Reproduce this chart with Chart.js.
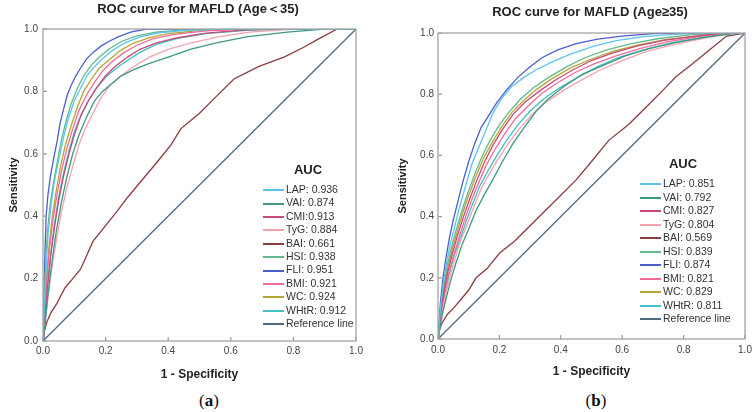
<!DOCTYPE html>
<html>
<head>
<meta charset="utf-8">
<script src="https://cdn.jsdelivr.net/npm/chart.js@4.4.1/dist/chart.umd.min.js"></script>
<style>
  body { margin: 0; background: #fff; font-family: Arial, "Liberation Sans", sans-serif; }
  #page { position: relative; width: 753px; height: 412px; overflow: hidden; }
  canvas { position: absolute; top: 0; }
  .title { position: absolute; transform: translate(-50%, -50%); font-weight: bold; font-size: 13px; color: #222; white-space: nowrap; }
  .panel { position: absolute; transform: translate(-50%, -50%); font-family: "Liberation Serif", "DejaVu Serif", serif; font-size: 17px; color: #111; }
  .auc { position: absolute; transform: translate(-50%, -50%); font-weight: bold; font-size: 13px; color: #222; }
  .leg { position: absolute; font-size: 10.5px; line-height: 12px; color: #333; white-space: nowrap; transform: translateY(-50%); }
  .leg span { display: inline-block; width: 21px; height: 2px; vertical-align: middle; margin-right: 2px; }
</style>
</head>
<body>
<div id="page">
  <canvas id="ChartYoung" width="376" height="390" style="left:0"></canvas>
  <canvas id="ChartOld" width="377" height="390" style="left:376px"></canvas>
  <div class="title" style="left:198px; top:9px">ROC curve for MAFLD (Age＜35)</div>
  <div class="title" style="left:590px; top:11px">ROC curve for MAFLD (Age≥35)</div>
  <div class="panel" style="left:209px; top:401px">(<b>a</b>)</div>
  <div class="panel" style="left:596px; top:401px">(<b>b</b>)</div>
  <div id="LegendYoung"></div>
  <div id="LegendOld"></div>
</div>
<script>
const markers = ["LAP", "VAI", "CMI", "TyG", "BAI", "HSI", "FLI", "BMI", "WC", "WHtR"];
const legendYoung = ["LAP: 0.936", "VAI: 0.874", "CMI:0.913", "TyG: 0.884", "BAI: 0.661", "HSI: 0.938", "FLI: 0.951", "BMI: 0.921", "WC: 0.924", "WHtR: 0.912", "Reference line"];
const legendOld = ["LAP: 0.851", "VAI: 0.792", "CMI: 0.827", "TyG: 0.804", "BAI: 0.569", "HSI: 0.839", "FLI: 0.874", "BMI: 0.821", "WC: 0.829", "WHtR: 0.811", "Reference line"];
const axisTicks = [0, 0.2, 0.4, 0.6, 0.8, 1.0];
const referenceLine = [[0, 0], [1, 1]];

// Age < 35 : [1 - specificity, sensitivity]
const lapYoung = [[0,0],[0.004,0.1],[0.009,0.22],[0.016,0.34],[0.025,0.43],[0.036,0.51],[0.05,0.58],[0.065,0.65],[0.08,0.71],[0.1,0.77],[0.12,0.81],[0.14,0.85],[0.165,0.88],[0.19,0.905],[0.22,0.93],[0.26,0.955],[0.31,0.975],[0.37,0.988],[0.45,0.995],[0.56,1],[1,1]];
const vaiYoung = [[0,0],[0.007,0.06],[0.016,0.15],[0.028,0.25],[0.042,0.35],[0.058,0.44],[0.075,0.52],[0.095,0.6],[0.115,0.66],[0.14,0.72],[0.165,0.77],[0.19,0.8],[0.22,0.825],[0.25,0.85],[0.29,0.87],[0.34,0.89],[0.4,0.91],[0.47,0.935],[0.55,0.955],[0.65,0.975],[0.78,0.99],[0.9,1],[1,1]];
const cmiYoung = [[0,0],[0.006,0.07],[0.014,0.17],[0.024,0.27],[0.036,0.36],[0.05,0.45],[0.066,0.53],[0.083,0.6],[0.1,0.66],[0.12,0.72],[0.145,0.77],[0.17,0.81],[0.2,0.85],[0.23,0.88],[0.27,0.91],[0.31,0.935],[0.36,0.955],[0.43,0.972],[0.52,0.987],[0.65,0.997],[0.75,1],[1,1]];
const tygYoung = [[0,0],[0.007,0.06],[0.016,0.14],[0.028,0.23],[0.042,0.32],[0.058,0.41],[0.076,0.49],[0.095,0.56],[0.115,0.63],[0.135,0.68],[0.16,0.73],[0.185,0.78],[0.215,0.82],[0.25,0.85],[0.29,0.88],[0.34,0.91],[0.4,0.935],[0.47,0.955],[0.56,0.975],[0.66,0.99],[0.8,1],[1,1]];
const baiYoung = [[0,0],[0.004,0.03],[0.012,0.06],[0.025,0.09],[0.044,0.12],[0.07,0.17],[0.095,0.2],[0.12,0.23],[0.16,0.32],[0.2,0.37],[0.24,0.42],[0.27,0.46],[0.32,0.52],[0.37,0.58],[0.41,0.63],[0.44,0.68],[0.5,0.73],[0.55,0.78],[0.61,0.84],[0.69,0.88],[0.77,0.91],[0.83,0.94],[0.875,0.965],[0.94,1],[1,1]];
const hsiYoung = [[0,0],[0.004,0.12],[0.008,0.24],[0.014,0.35],[0.022,0.43],[0.032,0.5],[0.045,0.57],[0.06,0.65],[0.075,0.71],[0.09,0.76],[0.11,0.81],[0.13,0.85],[0.155,0.885],[0.18,0.91],[0.21,0.935],[0.25,0.96],[0.3,0.978],[0.36,0.99],[0.45,0.997],[0.55,1],[1,1]];
const fliYoung = [[0,0],[0.003,0.12],[0.006,0.27],[0.01,0.4],[0.016,0.47],[0.024,0.53],[0.035,0.59],[0.045,0.64],[0.055,0.7],[0.065,0.74],[0.078,0.79],[0.09,0.82],[0.105,0.85],[0.12,0.875],[0.14,0.905],[0.16,0.925],[0.185,0.945],[0.21,0.96],[0.24,0.975],[0.28,0.99],[0.33,1],[1,1]];
const bmiYoung = [[0,0],[0.005,0.08],[0.012,0.19],[0.021,0.3],[0.032,0.39],[0.045,0.47],[0.06,0.55],[0.077,0.62],[0.095,0.68],[0.115,0.74],[0.14,0.79],[0.165,0.83],[0.19,0.865],[0.22,0.895],[0.26,0.925],[0.3,0.948],[0.35,0.968],[0.42,0.983],[0.52,0.994],[0.65,1],[1,1]];
const wcYoung = [[0,0],[0.005,0.09],[0.011,0.2],[0.02,0.31],[0.03,0.4],[0.042,0.48],[0.056,0.56],[0.072,0.63],[0.09,0.69],[0.11,0.75],[0.13,0.8],[0.155,0.84],[0.18,0.875],[0.21,0.9],[0.245,0.93],[0.29,0.955],[0.34,0.972],[0.4,0.985],[0.5,0.995],[0.62,1],[1,1]];
const whtrYoung = [[0,0],[0.006,0.07],[0.013,0.16],[0.024,0.27],[0.036,0.37],[0.05,0.46],[0.066,0.54],[0.083,0.61],[0.1,0.67],[0.12,0.72],[0.145,0.77],[0.17,0.81],[0.2,0.845],[0.235,0.875],[0.27,0.9],[0.31,0.925],[0.36,0.95],[0.43,0.97],[0.52,0.985],[0.65,0.996],[0.78,1],[1,1]];

// Age >= 35
const lapOld = [[0,0],[0.003,0.04],[0.009,0.11],[0.017,0.18],[0.028,0.25],[0.04,0.31],[0.055,0.37],[0.07,0.43],[0.09,0.5],[0.11,0.57],[0.13,0.62],[0.155,0.68],[0.18,0.74],[0.21,0.79],[0.24,0.825],[0.28,0.855],[0.32,0.88],[0.37,0.905],[0.43,0.93],[0.5,0.955],[0.58,0.975],[0.67,0.988],[0.78,0.996],[0.9,1],[1,1]];
const vaiOld = [[0,0],[0.005,0.03],[0.014,0.08],[0.026,0.13],[0.041,0.19],[0.059,0.25],[0.079,0.31],[0.1,0.36],[0.124,0.42],[0.15,0.47],[0.178,0.52],[0.21,0.58],[0.245,0.64],[0.28,0.69],[0.32,0.745],[0.36,0.785],[0.41,0.825],[0.47,0.865],[0.54,0.895],[0.61,0.925],[0.69,0.95],[0.78,0.97],[0.88,0.987],[0.96,0.998],[1,1]];
const cmiOld = [[0,0],[0.004,0.04],[0.011,0.1],[0.02,0.16],[0.032,0.22],[0.047,0.28],[0.064,0.34],[0.083,0.4],[0.104,0.46],[0.127,0.52],[0.152,0.58],[0.18,0.635],[0.21,0.685],[0.245,0.735],[0.285,0.775],[0.33,0.81],[0.38,0.845],[0.44,0.88],[0.5,0.91],[0.57,0.935],[0.65,0.958],[0.74,0.977],[0.84,0.99],[0.93,1],[1,1]];
const tygOld = [[0,0],[0.005,0.04],[0.013,0.09],[0.024,0.14],[0.038,0.2],[0.055,0.26],[0.073,0.32],[0.093,0.37],[0.116,0.43],[0.14,0.49],[0.167,0.54],[0.197,0.59],[0.23,0.64],[0.267,0.69],[0.308,0.735],[0.353,0.775],[0.405,0.81],[0.465,0.845],[0.53,0.88],[0.6,0.91],[0.68,0.94],[0.77,0.963],[0.87,0.983],[0.95,0.997],[1,1]];
const baiOld = [[0,0],[0.005,0.03],[0.012,0.05],[0.03,0.08],[0.05,0.1],[0.075,0.13],[0.1,0.16],[0.124,0.2],[0.16,0.23],[0.2,0.28],[0.25,0.32],[0.3,0.37],[0.34,0.41],[0.4,0.47],[0.45,0.52],[0.5,0.58],[0.557,0.65],[0.62,0.7],[0.68,0.76],[0.73,0.81],[0.775,0.857],[0.83,0.9],[0.883,0.944],[0.94,0.99],[1,1]];
const hsiOld = [[0,0],[0.004,0.05],[0.01,0.11],[0.018,0.17],[0.03,0.24],[0.044,0.3],[0.06,0.36],[0.078,0.42],[0.098,0.48],[0.12,0.54],[0.145,0.6],[0.17,0.65],[0.2,0.7],[0.23,0.74],[0.27,0.785],[0.31,0.82],[0.36,0.855],[0.42,0.89],[0.48,0.92],[0.55,0.945],[0.63,0.965],[0.72,0.982],[0.82,0.994],[0.92,1],[1,1]];
const fliOld = [[0,0],[0.003,0.05],[0.008,0.12],[0.015,0.19],[0.025,0.26],[0.037,0.33],[0.05,0.39],[0.065,0.45],[0.08,0.51],[0.1,0.58],[0.12,0.64],[0.14,0.69],[0.165,0.73],[0.19,0.77],[0.22,0.81],[0.26,0.855],[0.3,0.89],[0.34,0.92],[0.39,0.945],[0.45,0.965],[0.52,0.98],[0.6,0.99],[0.7,0.998],[0.8,1],[1,1]];
const bmiOld = [[0,0],[0.005,0.04],[0.012,0.09],[0.021,0.15],[0.034,0.21],[0.05,0.27],[0.068,0.33],[0.087,0.39],[0.108,0.45],[0.132,0.51],[0.158,0.57],[0.186,0.62],[0.217,0.67],[0.252,0.72],[0.292,0.76],[0.335,0.8],[0.385,0.835],[0.445,0.87],[0.51,0.9],[0.58,0.925],[0.66,0.95],[0.75,0.972],[0.85,0.988],[0.94,1],[1,1]];
const wcOld = [[0,0],[0.004,0.05],[0.01,0.1],[0.019,0.16],[0.031,0.23],[0.046,0.29],[0.062,0.35],[0.08,0.41],[0.1,0.47],[0.123,0.53],[0.148,0.59],[0.175,0.64],[0.205,0.69],[0.24,0.74],[0.28,0.78],[0.32,0.815],[0.37,0.85],[0.43,0.885],[0.5,0.915],[0.57,0.94],[0.65,0.96],[0.74,0.978],[0.84,0.99],[0.93,1],[1,1]];
const whtrOld = [[0,0],[0.005,0.04],[0.013,0.09],[0.023,0.15],[0.036,0.21],[0.052,0.27],[0.07,0.32],[0.09,0.38],[0.112,0.44],[0.136,0.5],[0.163,0.55],[0.192,0.6],[0.224,0.65],[0.26,0.7],[0.3,0.745],[0.345,0.785],[0.395,0.82],[0.455,0.855],[0.52,0.89],[0.59,0.92],[0.67,0.945],[0.76,0.968],[0.86,0.986],[0.95,1],[1,1]];

const colors = {
    LAP: "#5cc4ee", VAI: "#3f9a80", CMI: "#c8497c", TyG: "#f3a3ae", BAI: "#8a3c3e",
    HSI: "#62b98c", FLI: "#4a5fcc", BMI: "#f06a9a", WC: "#b3a832", WHtR: "#3fc0c2", Reference: "#4f6b80"
};

const toPoints = arr => arr.map(p => ({ x: p[0], y: p[1] }));

const framePlugin = {
    id: "frame",
    afterDatasetsDraw(chart) {
        const { ctx, chartArea: a, scales: { x, y } } = chart;
        ctx.save();
        ctx.strokeStyle = "#9c9c9c";
        ctx.lineWidth = 1.2;
        ctx.strokeRect(a.left, a.top, a.width, a.height);
        ctx.beginPath();
        axisTicks.forEach(v => {
            const px = x.getPixelForValue(v);
            ctx.moveTo(px, a.bottom);
            ctx.lineTo(px, a.bottom - 4);
            const py = y.getPixelForValue(v);
            ctx.moveTo(a.left, py);
            ctx.lineTo(a.left + 4, py);
        });
        ctx.stroke();
        ctx.restore();
    }
};

function BuildRocChart(canvasId, curves, geo) {
    const datasets = markers.map((name, i) => ({
        label: name,
        data: toPoints(curves[i]),
        borderColor: colors[name],
        borderWidth: 1.3,
        showLine: true,
        pointRadius: 0,
        tension: 0
    }));
    datasets.push({
        label: "Reference line",
        data: toPoints(referenceLine),
        borderColor: colors.Reference,
        borderWidth: 1.3,
        showLine: true,
        pointRadius: 0
    });

    return new Chart(document.getElementById(canvasId), {
        type: "scatter",
        data: { datasets: datasets },
        options: {
            responsive: false,
            animation: false,
            layout: { padding: geo.padding },
            plugins: { legend: { display: false }, tooltip: { enabled: false } },
            scales: {
                x: {
                    min: 0, max: 1,
                    grid: { display: false, drawTicks: false },
                    border: { display: false },
                    ticks: {
                        stepSize: 0.2, padding: geo.xTickPad, color: "#444",
                        font: { size: 10, family: "Arial" },
                        callback: v => v.toFixed(1)
                    },
                    title: {
                        display: true, text: "1 - Specificity", color: "#222",
                        font: { size: 12, weight: "bold", family: "Arial" },
                        padding: { top: 0, bottom: geo.xTitlePad }
                    },
                    afterFit(scale) {
                        scale.height = geo.xHeight;
                        scale.paddingLeft = 0;
                        scale.paddingRight = 0;
                    }
                },
                y: {
                    min: 0, max: 1,
                    grid: { display: false, drawTicks: false },
                    border: { display: false },
                    ticks: {
                        stepSize: 0.2, padding: geo.yTickPad, color: "#444",
                        font: { size: 10, family: "Arial" },
                        callback: v => v.toFixed(1)
                    },
                    title: {
                        display: true, text: "Sensitivity", color: "#222",
                        font: { size: 11, weight: "bold", family: "Arial" },
                        padding: { top: geo.yTitlePad, bottom: 0 }
                    },
                    afterFit(scale) {
                        scale.width = geo.yWidth;
                        scale.paddingTop = 0;
                        scale.paddingBottom = 0;
                    }
                }
            }
        },
        plugins: [framePlugin]
    });
}

function BuildLegend(id, texts, geo) {
    const box = document.getElementById(id);
    let html = '<div class="auc" style="left:' + geo.aucX + 'px; top:' + geo.aucY + 'px">AUC</div>';
    const keys = markers.concat(["Reference"]);
    texts.forEach((t, i) => {
        const top = geo.firstY + i * geo.step;
        html += '<div class="leg" style="left:' + geo.lineX + 'px; top:' + top + 'px"><span style="background:' + colors[keys[i]] + '"></span>' + t + '</div>';
    });
    box.innerHTML = html;
}

BuildRocChart("ChartYoung",
    [lapYoung, vaiYoung, cmiYoung, tygYoung, baiYoung, hsiYoung, fliYoung, bmiYoung, wcYoung, whtrYoung],
    { padding: { left: 0, top: 29, right: 20, bottom: 0 }, xHeight: 49, yWidth: 43, xTickPad: 4, yTickPad: 5, xTitlePad: 8, yTitlePad: 7 });

BuildRocChart("ChartOld",
    [lapOld, vaiOld, cmiOld, tygOld, baiOld, hsiOld, fliOld, bmiOld, wcOld, whtrOld],
    { padding: { left: 0, top: 33, right: 8, bottom: 0 }, xHeight: 51, yWidth: 62, xTickPad: 5, yTickPad: 4, xTitlePad: 11, yTitlePad: 20 });

BuildLegend("LegendYoung", legendYoung, { aucX: 308, aucY: 169, lineX: 263, firstY: 189, step: 13.4 });
BuildLegend("LegendOld", legendOld, { aucX: 683, aucY: 163, lineX: 640, firstY: 183, step: 13.5 });
</script>
</body>
</html>
